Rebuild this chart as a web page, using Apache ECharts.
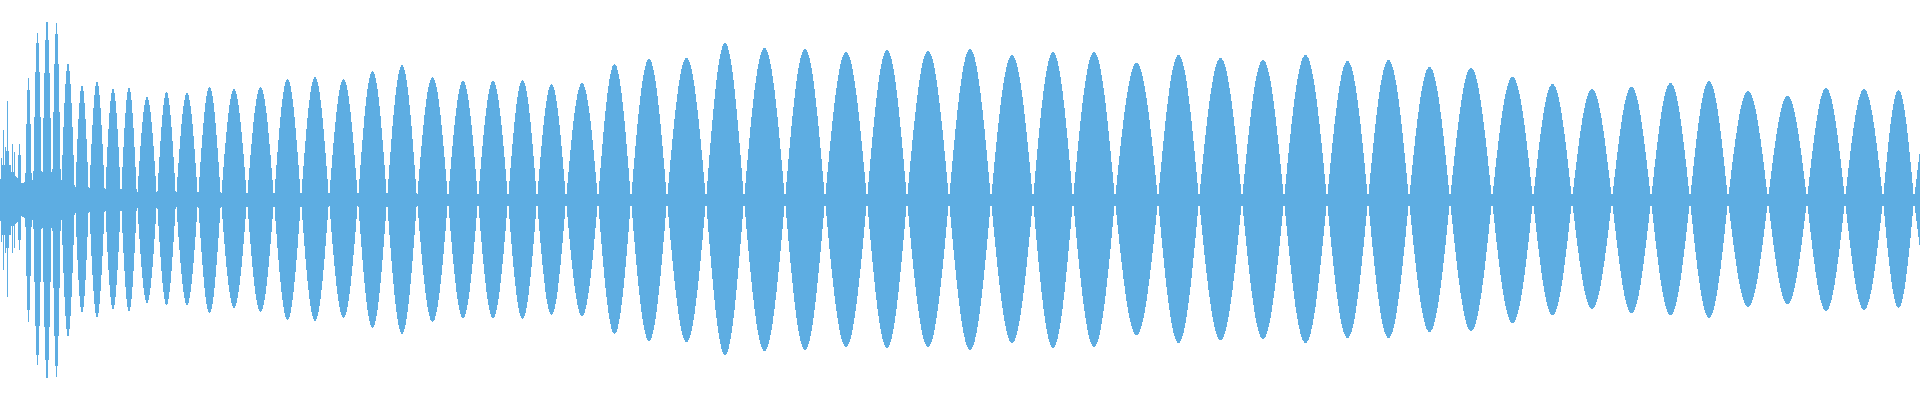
<!DOCTYPE html>
<html><head><meta charset="utf-8">
<script src="https://cdn.jsdelivr.net/npm/echarts@6/dist/echarts.min.js"></script>
<style>html,body{margin:0;padding:0;background:#fff}#c{width:1920px;height:400px}</style>
</head><body><div id="c"></div>
<script>
// Each lobe of the waveform envelope: start sample, end sample, peak amplitude above and below zero
const lobeStart = [-10, 10, 40, 0, 2, 4, 6, 8, 11, 13, 17, 25, 33, 42, 52, 61, 75, 89, 105, 121, 137, 157, 176, 198,
  221, 247, 274, 301, 329, 358, 387, 417, 448, 478, 508, 537, 566, 598, 631, 667, 706, 744, 785, 825, 867,
  907, 949, 991, 1033, 1073, 1115, 1158, 1199, 1242, 1284, 1327, 1368, 1409, 1450, 1492, 1533, 1572, 1612,
  1651, 1690, 1728, 1768, 1807, 1845, 1883, 1914];
const lobeEnd = [30, 50, 80, 3, 5, 7, 9, 12, 14, 16, 22, 32, 42, 52, 61, 75, 89, 105, 121, 137, 157, 176, 198, 221,
  247, 274, 301, 329, 358, 387, 417, 448, 478, 508, 537, 566, 598, 631, 667, 706, 744, 785, 825, 867, 907,
  949, 991, 1033, 1073, 1115, 1158, 1199, 1242, 1284, 1327, 1368, 1409, 1450, 1492, 1533, 1572, 1612, 1651,
  1690, 1728, 1768, 1807, 1845, 1883, 1914, 1954];
const ampTop = [26, 20, 20, 42, 70, 53, 99, 38, 56, 48, 56, 122, 167, 180, 177, 137, 115, 119, 112, 113, 103, 108, 107, 113,
  111, 113, 121, 123, 121, 129, 135, 123, 119, 119, 120, 116, 117, 136, 141, 142, 157, 152, 151, 148, 150,
  149, 151, 145, 148, 148, 137, 145, 142, 140, 145, 139, 140, 133, 132, 123, 116, 111, 113,
  117, 119, 109, 104, 112, 111, 110, 110];
const ampBottom = [26, 20, 20, 42, 70, 53, 97, 38, 53, 48, 50, 122, 165, 180, 177, 137, 113, 118, 110, 112, 103, 105, 105, 113,
  108, 112, 120, 121, 118, 128, 134, 122, 118, 118, 119, 115, 116, 134, 141, 142, 155, 151, 150, 147, 148,
  147, 150, 143, 148, 147, 135, 143, 140, 139, 143, 138, 138, 132, 131, 123, 115, 109, 113,
  115, 118, 107, 104, 111, 110, 108, 108];
const noiseFloor = 6;
const waveColor = '#5dade2';

const chart = echarts.init(document.getElementById('c'), null, {renderer: 'canvas'});
const data = lobeStart.map((s, i) => [s, lobeEnd[i], ampTop[i], ampBottom[i]]);

// each lobe is drawn as a run of one-pixel columns, like the reference waveform
function renderItem(params, api) {
  const s = Number(api.value(0)), e = Number(api.value(1));
  const t = Number(api.value(2)), b = Number(api.value(3));
  const pStart = api.coord([s, 0]);
  const pEnd = api.coord([e, 0]);
  const pTop = api.coord([s, t]);
  const pBot = api.coord([s, -b]);
  const pFloor = api.coord([s, noiseFloor]);
  const x0 = pStart[0], x1 = pEnd[0], yc = pStart[1];
  const hT = yc - pTop[1], hB = pBot[1] - yc, hF = yc - pFloor[1];
  const w = x1 - x0;
  const children = [];
  const c0 = Math.floor(x0), c1 = Math.ceil(x1);
  for (let c = c0; c < c1; c++) {
    const u = Math.min(1, Math.max(0, (c + 0.5 - x0) / w));
    const f = Math.sin(Math.PI * u);
    const up = Math.round(Math.max(hF, hT * f));
    const dn = Math.round(Math.max(hF, hB * f));
    children.push({
      type: 'rect',
      shape: {x: c, y: yc - up, width: 1, height: up + dn},
      style: {fill: waveColor}
    });
  }
  return {type: 'group', children: children};
}

chart.setOption({
  animation: false,
  backgroundColor: '#ffffff',
  grid: {left: 0, right: 0, top: 0, bottom: 0},
  xAxis: {type: 'value', min: 0, max: 1920, show: false},
  yAxis: {type: 'value', min: -200, max: 200, show: false},
  series: [{
    type: 'custom',
    clip: true,
    renderItem: renderItem,
    encode: {x: [0, 1], y: [2, 3]},
    data: data
  }]
});
</script>
</body></html>
